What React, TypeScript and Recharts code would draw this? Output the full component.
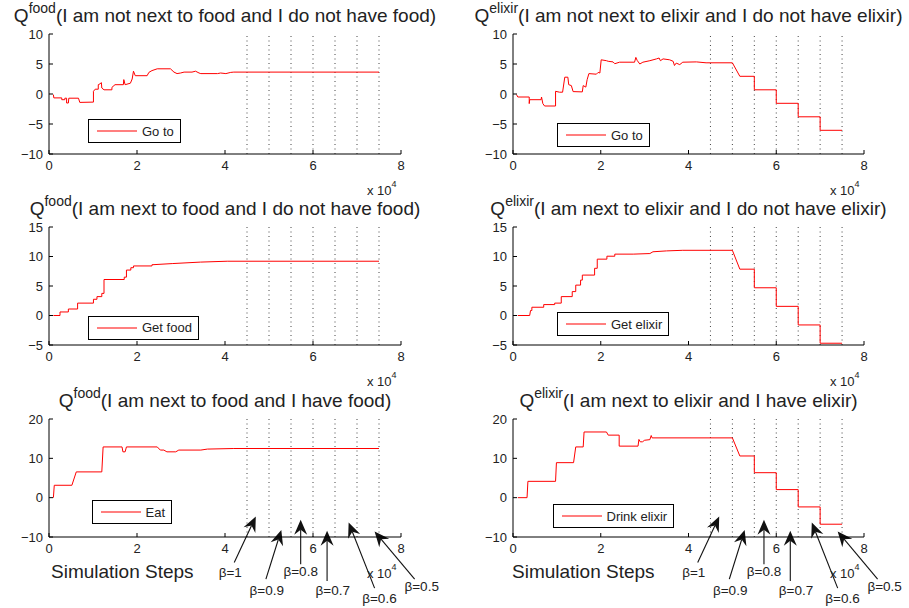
import React from 'react';
import { LineChart, Line, XAxis, YAxis, ReferenceLine, ReferenceDot, Legend } from 'recharts';

type Pt = [number, number];

// x axis (simulation steps) and the beta change points
const xTicks = [0, 20000, 40000, 60000, 80000];
const betaSteps = [45000, 50000, 55000, 60000, 65000, 70000, 75000];

const ticksGoTo = [-10, -5, 0, 5, 10];
const ticksGet = [-5, 0, 5, 10, 15];
const ticksEat = [-10, 0, 10, 20];

// Q values: [step, Q]
const goToFood: Pt[] = [
  [1000, -0.1], [1100, -0.65], [2900, -0.65], [2900, -0.95], [3600, -0.95], [3600, -0.7], [4000, -0.7],
  [4000, -1.5], [4400, -1.5], [4500, -0.7], [6700, -0.7], [7000, -1.4], [10100, -1.35], [10100, 0.45],
  [10500, 0.8], [11200, 0.8], [11200, 1.55], [11600, 1.7], [11900, 1.9], [12000, 1.0], [12500, 0.7],
  [14300, 0.7], [14300, 1.1], [15000, 1.55], [16900, 1.55], [17000, 2.4], [17300, 1.55], [18500, 1.8],
  [18900, 2.5], [19200, 3.8], [19600, 3.05], [22300, 3.05], [22700, 3.6], [23400, 3.9], [24600, 4.2],
  [27600, 4.2], [28400, 3.65], [29100, 3.4], [29900, 3.5], [30700, 3.65], [32500, 3.65], [33300, 3.8],
  [34100, 3.5], [34500, 3.4], [38300, 3.4], [39000, 3.5], [40200, 3.4], [41300, 3.6], [42000, 3.65],
  [75000, 3.65],
];

const goToElixir: Pt[] = [
  [800, -0.1], [1100, -0.5], [3700, -0.5], [3700, -1.6], [3800, -0.95], [6400, -0.95], [6500, -0.5],
  [6800, -1.6], [7200, -2.0], [9700, -2.0], [9700, 0.45], [10600, 0.3], [11300, 0.3], [11800, 2.8],
  [12500, 2.8], [12700, 1.55], [13300, 1.4], [13700, 0.4], [15800, 0.35], [16000, 1.4], [16600, 1.15],
  [16900, 2.4], [17300, 3.4], [19000, 3.3], [19400, 3.6], [19800, 3.5], [20100, 5.7], [21300, 5.55],
  [21700, 5.45], [22800, 5.35], [23200, 5.05], [24300, 5.3], [27700, 5.3], [28000, 6.1], [28300, 5.6],
  [28900, 5.0], [29600, 5.3], [31200, 5.55], [32700, 5.85], [33300, 6.0], [33600, 5.55], [34200, 5.85],
  [35700, 5.7], [36500, 5.45], [36800, 4.75], [37200, 5.15], [38000, 4.9], [38700, 5.3], [41800, 5.35],
  [44000, 5.2], [50000, 5.2], [51700, 2.95], [55000, 2.95], [55000, 0.7], [60000, 0.7], [60000, -1.55],
  [65000, -1.55], [65000, -3.8], [70000, -3.8], [70000, -6.05], [75000, -6.05],
];

const getFood: Pt[] = [
  [1000, 0], [2500, 0], [2500, 0.6], [4400, 0.6], [4400, 1.1], [6500, 1.1], [6500, 2.1], [10100, 2.1],
  [10100, 2.75], [10900, 2.75], [10900, 3.2], [12000, 3.2], [12000, 3.75], [12500, 3.75], [12500, 6.1],
  [17100, 6.1], [17100, 6.5], [17600, 6.5], [17600, 7.7], [18600, 7.7], [18600, 8.1], [19200, 8.1],
  [19200, 8.4], [23400, 8.4], [23400, 8.6], [28000, 8.8], [34400, 9.05], [40500, 9.2], [75000, 9.2],
];

const getElixir: Pt[] = [
  [1100, 0], [3800, 0], [4000, 0.85], [4300, 0.85], [4300, 1.4], [7000, 1.4], [7000, 1.85], [9500, 1.85],
  [9500, 2.1], [11000, 2.1], [11000, 3.2], [13500, 3.2], [13500, 4.05], [14300, 4.05], [14300, 5.15],
  [15400, 5.15], [15400, 6.0], [15800, 6.0], [15800, 6.85], [18600, 6.85], [18600, 8.0], [19200, 8.0],
  [19200, 9.55], [21400, 9.55], [21400, 10.05], [23200, 10.05], [23200, 10.4], [27400, 10.4], [31200, 10.5],
  [31900, 10.8], [35000, 10.95], [38700, 11.05], [50000, 11.05], [51700, 7.85], [55000, 7.85], [55000, 4.7],
  [60000, 4.7], [60000, 1.55], [65000, 1.55], [65000, -1.6], [70000, -1.6], [70000, -4.7], [75000, -4.7],
];

const eat: Pt[] = [
  [1000, 0], [1200, 3.15], [5200, 3.15], [6200, 6.55], [12000, 6.55], [12300, 12.9], [16600, 12.9],
  [16800, 11.65], [17300, 11.65], [17600, 12.9], [24600, 12.9], [25300, 12.1], [26100, 12.1], [26800, 11.65],
  [28800, 11.65], [29500, 12.1], [34500, 12.1], [36000, 12.35], [42000, 12.5], [75000, 12.5],
];

const drinkElixir: Pt[] = [
  [1100, 0], [3200, 0], [3400, 4.15], [9700, 4.15], [9900, 8.9], [13800, 8.9], [14300, 12.9], [16000, 12.9],
  [16200, 16.7], [21300, 16.7], [21700, 15.9], [24200, 15.9], [24200, 13.1], [28500, 13.1], [28700, 14.8],
  [29000, 14.2], [29500, 14.2], [30000, 14.6], [31200, 14.75], [31500, 15.8], [31700, 15.2], [50000, 15.2],
  [51700, 10.6], [55000, 10.6], [55000, 6.35], [60000, 6.35], [60000, 2.05], [65000, 2.05], [65000, -2.35],
  [70000, -2.35], [70000, -6.75], [75000, -6.75],
];

// beta annotations (data space of the bottom panels)
const betaLabels = ['β=1', 'β=0.9', 'β=0.8', 'β=0.7', 'β=0.6', 'β=0.5'];
const arrowTails: Pt[] = [[42100, -16.5], [49300, -20.7], [57200, -16.9], [63200, -21.2], [74000, -23.0], [83100, -20.7]];
const arrowHeads: Pt[] = [[47000, -4.8], [52800, -8.2], [57200, -5.6], [63200, -8.4], [68100, -6.3], [74000, -8.6]];
const labelSpots: Pt[] = [[41200, -18.9], [49500, -23.6], [57200, -18.8], [64500, -23.6], [75100, -25.5], [84700, -22.4]];

const FONT = '"Liberation Sans", Arial, Helvetica, sans-serif';
const TXT = '#222';
const RED = '#ff0000';

const fmtY = (v: number) => (v < 0 ? '\u2212' + Math.abs(v) : String(v));
const fmtX = (v: number) => String(v / 10000);

const ArrowShape = (p: any) => {
  const { x1, y1, x2, y2 } = p;
  const dx = x2 - x1;
  const dy = y2 - y1;
  const len = Math.hypot(dx, dy) || 1;
  const ux = dx / len;
  const uy = dy / len;
  const L = 15;
  const W = 6.5;
  const N = 5;
  const bx = x2 - ux * L;
  const by = y2 - uy * L;
  const nx = x2 - ux * (L - N);
  const ny = y2 - uy * (L - N);
  const pts = [
    [x2, y2],
    [bx - uy * W, by + ux * W],
    [nx, ny],
    [bx + uy * W, by - ux * W],
  ]
    .map((q) => q.join(','))
    .join(' ');
  return (
    <g>
      <line x1={x1} y1={y1} x2={nx} y2={ny} stroke="#111" strokeWidth={1.1} />
      <polygon points={pts} fill="#111" />
    </g>
  );
};

const LegendBox = (props: any) => {
  const entry = (props.payload || [])[0];
  if (!entry) return null;
  return (
    <div
      style={{
        display: 'flex',
        alignItems: 'center',
        height: 22,
        padding: '0 6px 0 8px',
        border: '1px solid #000',
        background: '#fff',
        fontSize: 13,
        color: TXT,
        fontFamily: FONT,
        whiteSpace: 'nowrap',
      }}
    >
      <svg width={40} height={10} style={{ marginRight: 5, display: 'block' }}>
        <line x1={0} y1={5} x2={40} y2={5} stroke={RED} strokeWidth={1.2} />
      </svg>
      {entry.value}
    </div>
  );
};

interface PanelProps {
  series: Pt[];
  name: string;
  yDomain: [number, number];
  yTicks: number[];
  left: number;
  top: number;
  plotW: number;
  plotH: number;
  legendDx: number;
  legendDy: number;
  marginRight: number;
  marginBottom: number;
  arrows?: boolean;
}

const Panel: React.FC<PanelProps> = ({
  series, name, yDomain, yTicks, left, top, plotW, plotH, legendDx, legendDy, marginRight, marginBottom, arrows,
}) => {
  const data = series.map(([x, y]) => ({ x, y }));
  const width = 49 + plotW + marginRight;
  const height = 10 + plotH + 30 + marginBottom;
  const tickStyle = { fill: TXT, fontSize: 13 };
  return (
    <div style={{ position: 'absolute', left: left - 49, top: top - 10 }}>
      <LineChart width={width} height={height} data={data} margin={{ top: 10, left: 9, right: marginRight, bottom: marginBottom }}>
        <XAxis
          dataKey="x"
          type="number"
          domain={[0, 80000]}
          ticks={xTicks}
          interval={0}
          tickFormatter={fmtX}
          height={30}
          tickSize={-4}
          tickMargin={11}
          tick={tickStyle}
          stroke="#000"
          allowDataOverflow
        />
        <XAxis
          xAxisId="top"
          orientation="top"
          dataKey="x"
          type="number"
          domain={[0, 80000]}
          ticks={xTicks}
          interval={0}
          height={0}
          tickSize={-4}
          tick={false}
          stroke="#000"
          allowDataOverflow
        />
        <YAxis
          type="number"
          domain={yDomain}
          ticks={yTicks}
          interval={0}
          tickFormatter={fmtY}
          width={40}
          tickSize={-4}
          tickMargin={10}
          tick={tickStyle}
          stroke="#000"
          allowDataOverflow
        />
        <YAxis
          yAxisId="right"
          orientation="right"
          type="number"
          domain={yDomain}
          ticks={yTicks}
          interval={0}
          width={0}
          tickSize={-4}
          tick={false}
          stroke="#000"
          allowDataOverflow
        />
        {betaSteps.map((b) => (
          <ReferenceLine key={b} x={b} stroke="#444" strokeDasharray="1 3.5" />
        ))}
        <Line
          dataKey="y"
          name={name}
          type="linear"
          stroke={RED}
          strokeWidth={1}
          dot={false}
          activeDot={false}
          isAnimationActive={false}
        />
        <Legend
          layout="horizontal"
          verticalAlign="middle"
          align="center"
          content={<LegendBox />}
          wrapperStyle={{ left: 49 + legendDx, top: 10 + legendDy, width: 'auto', height: 'auto' }}
        />
        {arrows &&
          betaLabels.map((lab, i) => (
            <ReferenceLine
              key={'a' + i}
              segment={[
                { x: arrowTails[i][0], y: arrowTails[i][1] },
                { x: arrowHeads[i][0], y: arrowHeads[i][1] },
              ]}
              ifOverflow="visible"
              shape={ArrowShape}
            />
          ))}
        {arrows &&
          betaLabels.map((lab, i) => (
            <ReferenceDot
              key={'l' + i}
              x={labelSpots[i][0]}
              y={labelSpots[i][1]}
              r={0}
              fill="none"
              stroke="none"
              ifOverflow="visible"
              label={{ value: lab, position: 'center', fill: TXT, fontSize: 13.5 }}
            />
          ))}
      </LineChart>
    </div>
  );
};

const Title: React.FC<{ cx: number; plotTop: number; sup: string; text: string }> = ({ cx, plotTop, sup, text }) => (
  <div
    style={{
      position: 'absolute',
      left: cx - 300,
      width: 600,
      top: plotTop - 12.5 - 16,
      fontSize: 19,
      lineHeight: '19px',
      textAlign: 'center',
      whiteSpace: 'nowrap',
      color: TXT,
    }}
  >
    Q<span style={{ fontSize: 14, position: 'relative', top: -9 }}>{sup}</span>
    {text}
  </div>
);

const Times: React.FC<{ right: number; bottom: number }> = ({ right, bottom }) => (
  <div
    style={{
      position: 'absolute',
      left: right - 4.5 - 100,
      width: 100,
      top: bottom + 40.5 - 11,
      fontSize: 13,
      lineHeight: '13px',
      textAlign: 'right',
      whiteSpace: 'nowrap',
      color: TXT,
    }}
  >
    x 10<span style={{ fontSize: 9, position: 'relative', top: -7.5 }}>4</span>
  </div>
);

const XLabel: React.FC<{ x: number }> = ({ x }) => (
  <div
    style={{
      position: 'absolute',
      left: x,
      top: 577.5 - 16,
      fontSize: 19,
      lineHeight: '19px',
      whiteSpace: 'nowrap',
      color: TXT,
    }}
  >
    Simulation Steps
  </div>
);

const L = { left: 49, w: 352 };
const R = { left: 513, w: 351 };
const rows = [
  { top: 34, h: 120 },
  { top: 227, h: 118 },
  { top: 419, h: 118 },
];

export default function App() {
  return (
    <div
      style={{
        position: 'absolute',
        left: 0,
        top: 0,
        width: 909,
        height: 608,
        overflow: 'hidden',
        background: '#fff',
        fontFamily: FONT,
      }}
    >
      <Panel series={goToFood} name="Go to" yDomain={[-10, 10]} yTicks={ticksGoTo}
        left={L.left} top={rows[0].top} plotW={L.w} plotH={rows[0].h}
        legendDx={39} legendDy={85} marginRight={50} marginBottom={16} />
      <Panel series={goToElixir} name="Go to" yDomain={[-10, 10]} yTicks={ticksGoTo}
        left={R.left} top={rows[0].top} plotW={R.w} plotH={rows[0].h}
        legendDx={44} legendDy={89} marginRight={45} marginBottom={16} />
      <Panel series={getFood} name="Get food" yDomain={[-5, 15]} yTicks={ticksGet}
        left={L.left} top={rows[1].top} plotW={L.w} plotH={rows[1].h}
        legendDx={39} legendDy={88.5} marginRight={50} marginBottom={16} />
      <Panel series={getElixir} name="Get elixir" yDomain={[-5, 15]} yTicks={ticksGet}
        left={R.left} top={rows[1].top} plotW={R.w} plotH={rows[1].h}
        legendDx={44} legendDy={85} marginRight={45} marginBottom={16} />
      <Panel series={eat} name="Eat" yDomain={[-10, 20]} yTicks={ticksEat}
        left={L.left} top={rows[2].top} plotW={L.w} plotH={rows[2].h}
        legendDx={42.5} legendDy={81} marginRight={50} marginBottom={41} arrows />
      <Panel series={drinkElixir} name="Drink elixir" yDomain={[-10, 20]} yTicks={ticksEat}
        left={R.left} top={rows[2].top} plotW={R.w} plotH={rows[2].h}
        legendDx={39.5} legendDy={85} marginRight={45} marginBottom={41} arrows />

      <Title cx={L.left + L.w / 2} plotTop={rows[0].top} sup="food" text="(I am not next to food and I do not have food)" />
      <Title cx={R.left + R.w / 2} plotTop={rows[0].top} sup="elixir" text="(I am not next to elixir and I do not have elixir)" />
      <Title cx={L.left + L.w / 2} plotTop={rows[1].top} sup="food" text="(I am next to food and I do not have food)" />
      <Title cx={R.left + R.w / 2} plotTop={rows[1].top} sup="elixir" text="(I am next to elixir and I do not have elixir)" />
      <Title cx={L.left + L.w / 2} plotTop={rows[2].top} sup="food" text="(I am next to food and I have food)" />
      <Title cx={R.left + R.w / 2} plotTop={rows[2].top} sup="elixir" text="(I am next to elixir and I have elixir)" />

      {rows.map((r, i) => (
        <React.Fragment key={i}>
          <Times right={L.left + L.w} bottom={r.top + r.h} />
          <Times right={R.left + R.w} bottom={r.top + r.h} />
        </React.Fragment>
      ))}
      <XLabel x={51} />
      <XLabel x={512} />
    </div>
  );
}
